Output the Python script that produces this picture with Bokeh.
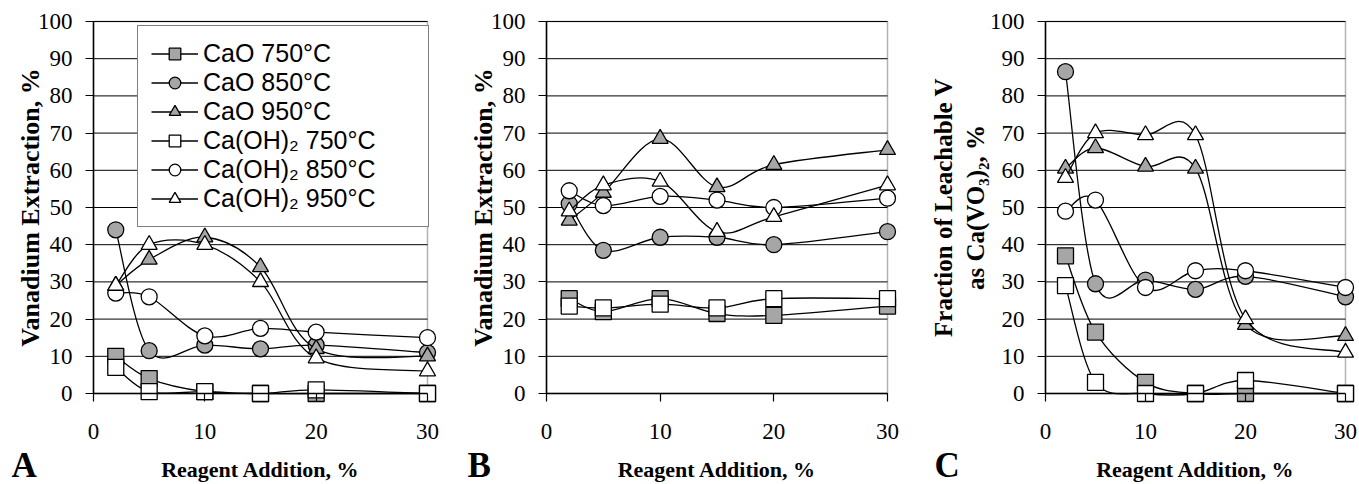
from bokeh.plotting import figure
from bokeh.layouts import row
from bokeh.models import (ColumnDataSource, Legend, LegendItem, Label, FixedTicker,
                          Range1d, BoxAnnotation)
from bokeh.embed import file_html
from bokeh.resources import INLINE

# ---------------- data ----------------
x_add = [2, 5, 10, 15, 20, 30]
series_names = ["CaO 750°C", "CaO 850°C", "CaO 950°C",
                "Ca(OH)₂ 750°C", "Ca(OH)₂ 850°C", "Ca(OH)₂ 950°C"]

# Panel A: Vanadium extraction, %
a_cao_750 = [10, 4, 0.5, 0, 0, 0]
a_cao_850 = [44, 11.5, 13, 12, 13, 11]
a_cao_950 = [29, 36, 42, 34, 12, 10]
a_oh_750 = [7, 0.5, 0.5, 0, 1, 0]
a_oh_850 = [27, 26, 15.5, 17.5, 16.5, 15]
a_oh_950 = [29, 40, 40, 30, 9.5, 6]

# Panel B: Vanadium extraction, %
b_cao_750 = [25.5, 22, 25.5, 21.5, 21, 23.5]
b_cao_850 = [51, 38.5, 42, 42, 40, 43.5]
b_cao_950 = [46.5, 54, 68.5, 55.5, 61.5, 65.5]
b_oh_750 = [23.5, 23, 24, 23, 25.5, 25.5]
b_oh_850 = [54.5, 50.5, 53, 52, 50, 52.5]
b_oh_950 = [49, 56, 57, 43.5, 47.5, 56]

# Panel C: Fraction of leachable V as Ca(VO3)2, %
c_cao_750 = [37, 16.5, 3, 0, 0, 0]
c_cao_850 = [86.5, 29.5, 30.5, 28, 31.5, 26]
c_cao_950 = [60.5, 66, 61, 60.5, 18.5, 15.5]
c_oh_750 = [29, 3, 0, 0, 3.5, 0]
c_oh_850 = [49, 52, 28.5, 33, 33, 28.5]
c_oh_950 = [58, 70, 69.5, 69.5, 20, 11]

x_ticks = [0, 10, 20, 30]
y_ticks = [0, 10, 20, 30, 40, 50, 60, 70, 80, 90, 100]
X_MIN, X_MAX = 0, 30
Y_MIN, Y_MAX = 0, 100

# ---------------- styles ----------------
GRAY = "#a6a6a6"
marker_of = ["square", "circle", "triangle", "square", "circle", "triangle"]
fill_of = [GRAY, GRAY, GRAY, "white", "white", "white"]
SERIF = "Liberation Serif"
SANS = "Liberation Sans"
H = 484
TOP = 21          # px position of plot-box top
BOT = 393         # px position of plot-box bottom


def smooth_source(xs, ys):
    """Cubic Bezier control points (Excel-like smoothing) between data points."""
    n = len(xs)
    d = dict(x0=[], y0=[], x1=[], y1=[], cx0=[], cy0=[], cx1=[], cy1=[])
    for i in range(n - 1):
        a = max(i - 1, 0)
        b = min(i + 2, n - 1)
        d["x0"].append(xs[i]); d["y0"].append(ys[i])
        d["x1"].append(xs[i + 1]); d["y1"].append(ys[i + 1])
        d["cx0"].append(xs[i] + (xs[i + 1] - xs[a]) / 6.0)
        d["cy0"].append(ys[i] + (ys[i + 1] - ys[a]) / 6.0)
        d["cx1"].append(xs[i + 1] - (xs[b] - xs[i]) / 6.0)
        d["cy1"].append(ys[i + 1] - (ys[b] - ys[i]) / 6.0)
    return ColumnDataSource(d)


def make_panel(series, W, L, R, ylabel, ysize, ystand, letter, letter_x, legend=False):
    pw = W - L - R
    ph = BOT - TOP
    sx = (X_MAX - X_MIN) / pw
    sy = (Y_MAX - Y_MIN) / ph
    # the frame covers the whole figure so that outer texts are not clipped
    p = figure(width=W, height=H,
               x_range=Range1d(X_MIN - L * sx, X_MAX + R * sx),
               y_range=Range1d(Y_MIN - (H - BOT) * sy, Y_MAX + TOP * sy),
               output_backend="svg", toolbar_location=None,
               min_border_left=0, min_border_right=0,
               min_border_top=0, min_border_bottom=0)
    p.background_fill_color = "white"
    p.border_fill_color = "white"
    p.outline_line_color = None
    p.xgrid.visible = False
    p.ygrid.visible = False

    # plot box and horizontal gridlines
    box = BoxAnnotation(left=X_MIN, right=X_MAX, bottom=Y_MIN, top=Y_MAX,
                        fill_color=None, fill_alpha=0, line_color="black",
                        line_width=1.5, level="underlay")
    p.add_layout(box)
    p.segment(x0=X_MIN, x1=X_MAX, y0=y_ticks, y1=y_ticks, line_color="black",
              line_width=1)

    p.xaxis.ticker = FixedTicker(ticks=x_ticks)
    p.yaxis.ticker = FixedTicker(ticks=y_ticks)
    p.xaxis.fixed_location = Y_MIN
    p.yaxis.fixed_location = X_MIN
    p.xaxis.bounds = (X_MIN, X_MAX)
    p.yaxis.bounds = (Y_MIN, Y_MAX)
    for ax in (p.xaxis, p.yaxis):
        ax.axis_line_color = "black"
        ax.axis_line_width = 1.5
        ax.major_tick_line_color = "black"
        ax.major_tick_line_width = 1.2
        ax.major_tick_out = 8
        ax.major_tick_in = 0
        ax.minor_tick_line_color = None
        ax.major_label_text_font = SERIF
        ax.major_label_text_font_size = "23px"
        ax.major_label_text_color = "black"
        ax.axis_label_text_font = SERIF
        ax.axis_label_text_font_style = "bold"
        ax.axis_label_text_color = "black"
    p.xaxis.major_label_standoff = 22
    p.yaxis.major_label_standoff = 13
    p.xaxis.axis_label = "Reagent Addition, %"
    p.xaxis.axis_label_text_font_size = "22px"
    p.xaxis.axis_label_standoff = 15
    p.yaxis.axis_label = ylabel
    p.yaxis.axis_label_text_font_size = ysize
    p.yaxis.axis_label_standoff = ystand

    items = []
    for name, ys, mk, fc in zip(series_names, series, marker_of, fill_of):
        src = smooth_source(x_add, ys)
        r_line = p.bezier(x0="x0", y0="y0", x1="x1", y1="y1", cx0="cx0", cy0="cy0",
                          cx1="cx1", cy1="cy1", source=src, line_color="black", line_width=1.3)
        r_pt = p.scatter(x=x_add, y=ys, marker=mk, size=16, fill_color=fc,
                         line_color="black", line_width=1.3)
        items.append(LegendItem(label=name, renderers=[r_line, r_pt]))

    if legend:
        lg = Legend(items=items, location=(137, H - 227))
        lg.margin = 0
        lg.padding = 13
        lg.spacing = 0
        lg.glyph_width = 47
        lg.glyph_height = 29
        lg.label_height = 29
        lg.label_width = 212
        lg.label_standoff = 5
        lg.label_text_font = SANS
        lg.label_text_font_size = "25px"
        lg.label_text_color = "black"
        lg.border_line_color = "black"
        lg.border_line_width = 1.3
        lg.background_fill_color = "white"
        lg.background_fill_alpha = 1
        p.add_layout(lg, "center")

    p.add_layout(Label(x=letter_x, y=19, x_units="screen", y_units="screen", text=letter,
                       text_font=SERIF, text_font_size="35px", text_font_style="bold",
                       text_baseline="alphabetic", text_color="black"))
    return p


pA = make_panel([a_cao_750, a_cao_850, a_cao_950, a_oh_750, a_oh_850, a_oh_950],
                450, 93, 23, "Vanadium Extraction, %", "26px", -10, "A", 11, legend=True)
pB = make_panel([b_cao_750, b_cao_850, b_cao_950, b_oh_750, b_oh_850, b_oh_950],
                450, 96, 13, "Vanadium Extraction, %", "26px", -10, "B", 17)
pC = make_panel([c_cao_750, c_cao_850, c_cao_950, c_oh_750, c_oh_850, c_oh_950],
                459, 145, 14, "Fraction of Leachable V\nas Ca(VO₃)₂, %", "25px", -2, "C", 34)

layout = row(pA, pB, pC, spacing=0)
open("out.html", "w").write(file_html(layout, INLINE))
